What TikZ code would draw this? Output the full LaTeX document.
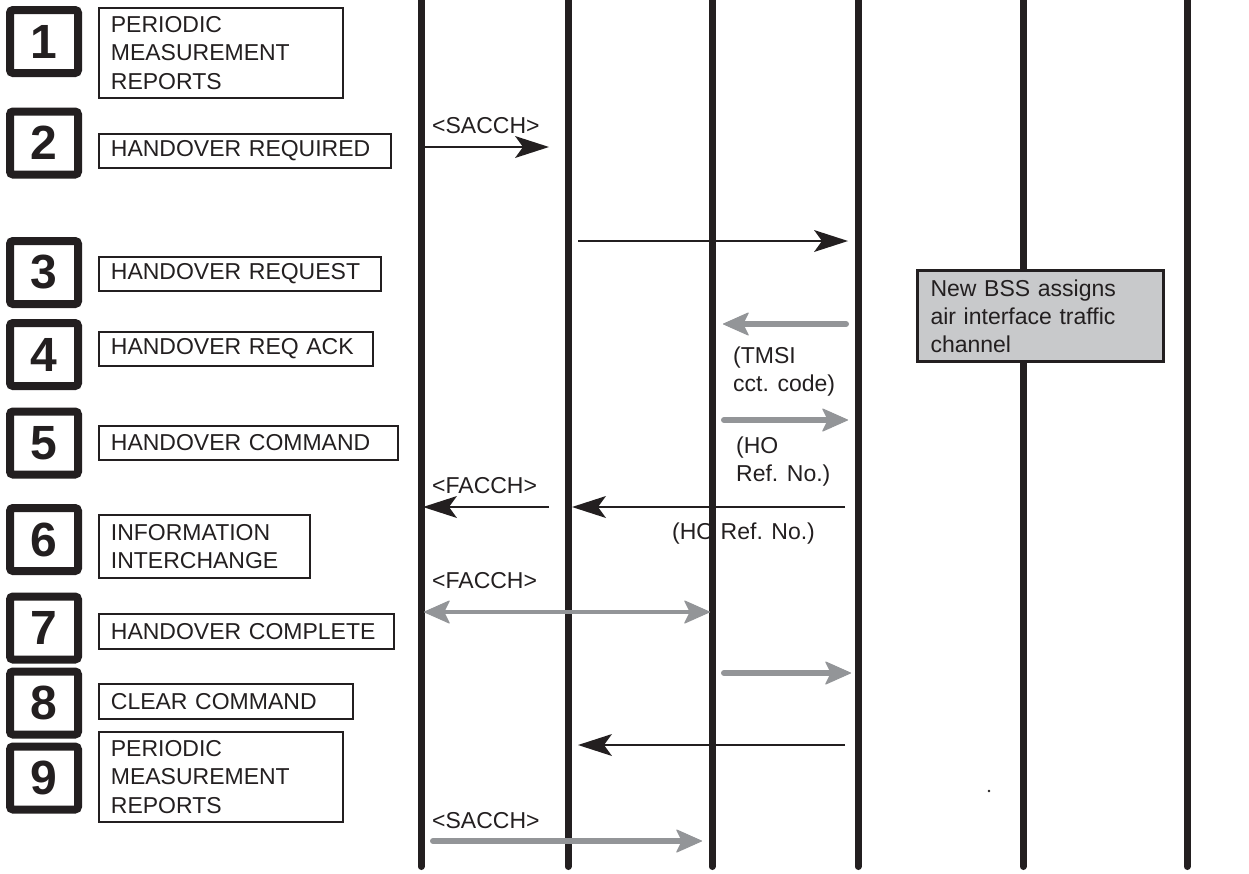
\documentclass[tikz,border=0pt]{standalone}
\usepackage{fontspec}
\setmainfont{Liberation Sans}
\usetikzlibrary{arrows.meta}
\definecolor{ink}{HTML}{231F20}
\definecolor{ggray}{HTML}{939598}
\definecolor{boxgray}{HTML}{C8C9CB}
\begin{document}
\begin{tikzpicture}[x=1pt,y=-1pt,
  numbox/.style={draw=ink, line width=8pt, rounded corners=3pt, minimum width=68pt, minimum height=63pt, inner sep=0pt, font=\fontsize{48}{48}\bfseries\selectfont, text=ink},
  tbox/.style={draw=ink, line width=1.8pt, anchor=north west, inner xsep=12pt, inner ysep=0pt, align=left, font=\fontsize{23}{28.5}\selectfont, text=ink},
  lbl/.style={inner sep=0pt, font=\fontsize{23}{28}\selectfont, text=ink, align=left},
  life/.style={draw=ink, line width=7pt, line cap=round},
  btip/.tip={Stealth[length=34pt,width=22pt,inset=8pt,line width=0pt]},
  blk/.style={draw=ink, line width=2.3pt, -btip},
  gtip/.tip={Stealth[length=27pt,width=24pt,inset=6pt,round,line width=1pt]},
  gry/.style={draw=ggray, line width=6pt, line cap=round, -gtip},
  gryd/.style={draw=ggray, line width=4.5pt, line cap=round, gtip-gtip},
]
\fill[white] (0,0) rectangle (1249,873);
\useasboundingbox (0,0) rectangle (1249,873);

% step numbers
\node[numbox] (n1) at (44,41.5) {1};
\node[numbox] (n2) at (44,143) {2};
\node[numbox] (n3) at (44,272.5) {3};
\node[numbox] (n4) at (44,354.5) {4};
\node[numbox] (n5) at (44,443) {5};
\node[numbox] (n6) at (44,539.5) {6};
\node[numbox] (n7) at (44,628) {7};
\node[numbox] (n8) at (44,703) {8};
\node[numbox] (n9) at (44,778) {9};

% step texts
\node[tbox, minimum height=90pt, text width=220pt] (t1) at (98,7) {PERIODIC\\MEASUREMENT\\REPORTS};
\node[tbox, minimum height=34pt, text width=268pt] (t2) at (98,133) {HANDOVER REQUIRED};
\node[tbox, minimum height=34pt, text width=258pt] (t3) at (98,256) {HANDOVER REQUEST};
\node[tbox, minimum height=34pt, text width=250pt] (t4) at (98,331) {HANDOVER REQ ACK};
\node[tbox, minimum height=34pt, text width=275pt] (t5) at (98,425) {HANDOVER COMMAND};
\node[tbox, minimum height=63pt, text width=187pt] (t6) at (98,514) {INFORMATION\\INTERCHANGE};
\node[tbox, minimum height=35pt, text width=271pt] (t7) at (98,613) {HANDOVER COMPLETE};
\node[tbox, minimum height=35pt, text width=230pt] (t8) at (98,683) {CLEAR COMMAND};
\node[tbox, minimum height=90pt, text width=220pt] (t9) at (98,731) {PERIODIC\\MEASUREMENT\\REPORTS};

% labels
\node[lbl, anchor=base west] (s1) at (432,133) {<SACCH>};
\node[lbl, anchor=north west] (tmsi) at (733,347) {(TMSI\\cct. code)};
\node[lbl, anchor=north west] (horef1) at (736,437) {(HO\\Ref. No.)};
\node[lbl, anchor=base west] (f1) at (432,493) {<FACCH>};
\node[lbl, anchor=base west] (horef2) at (672,539) {(HO Ref. No.)};
\node[lbl, anchor=base west] (f2) at (432,588) {<FACCH>};
\node[lbl, anchor=base west] (s2) at (432,828) {<SACCH>};

% lifelines
\foreach \i/\x in {1/421,2/568,3/712,4/858,5/1023,6/1187}{
  \coordinate (L\i t) at (\x,-10);
  \coordinate (L\i b) at (\x,866.5);
  \draw[life] (L\i t) -- (L\i b);
}

% grey note
\node[draw=ink, line width=3pt, fill=boxgray, anchor=north west, minimum height=91pt, text width=220pt, inner xsep=13pt, inner ysep=0pt, align=left, font=\fontsize{23}{28}\selectfont, text=ink] (note) at (916,269) {New BSS assigns\\air interface traffic\\channel};

% arrows
\coordinate (a2s) at (424,147);  \coordinate (a2e) at (549,147);
\coordinate (a3s) at (578,241);  \coordinate (a3e) at (848,241);
\coordinate (a4s) at (846,324);  \coordinate (a4e) at (723,324);
\coordinate (a5s) at (724,420);  \coordinate (a5e) at (848,420);
\coordinate (a6s) at (549,507);  \coordinate (a6e) at (423,507);
\coordinate (a6bs) at (845,507); \coordinate (a6be) at (572,507);
\coordinate (a7s) at (424,612);  \coordinate (a7e) at (710,612);
\coordinate (a8s) at (724,673);  \coordinate (a8e) at (851,673);
\coordinate (a9s) at (845,745);  \coordinate (a9e) at (578,745);
\coordinate (a10s) at (433,841); \coordinate (a10e) at (702,841);

\draw[blk] (a2s) -- (a2e);
\draw[blk] (a3s) -- (a3e);
\draw[gry] (a4s) -- (a4e);
\draw[gry] (a5s) -- (a5e);
\draw[blk] (a6s) -- (a6e);
\draw[blk] (a6bs) -- (a6be);
\draw[gryd] (a7s) -- (a7e);
\draw[gry] (a8s) -- (a8e);
\draw[blk] (a9s) -- (a9e);
\draw[gry] (a10s) -- (a10e);

\node[circle, fill=ink, inner sep=0pt, minimum size=2.6pt] (dot) at (989,791) {};
\end{tikzpicture}
\end{document}
